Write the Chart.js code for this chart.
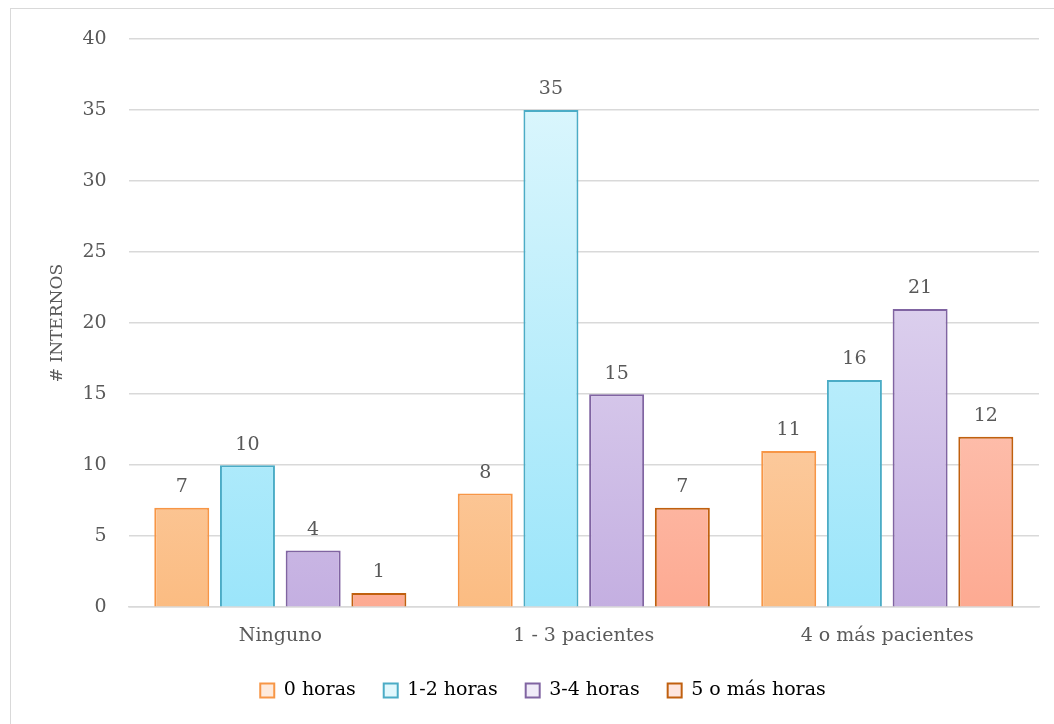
<!DOCTYPE html>
<html>
<head>
<meta charset="utf-8">
<script src="https://cdn.jsdelivr.net/npm/chart.js@4"></script>
<style>
  html, body { margin: 0; padding: 0; background: #fff; overflow: hidden; }
  #frame {
    position: absolute; left: 10px; top: 8px; width: 1060px; height: 740px;
    border: 1px solid #d9d9d9; box-sizing: border-box;
  }
  #wrap { position: absolute; left: 0; top: 0; width: 1054px; height: 724px; }
</style>
</head>
<body>
<div id="frame"></div>
<div id="wrap"><canvas id="c" width="1054" height="724"></canvas></div>
<script>
const categories = ['Ninguno', '1 - 3 pacientes', '4 o más pacientes'];
const seriesNames = ['0 horas', '1-2 horas', '3-4 horas', '5 o más horas'];
const horas0 = [7, 8, 11];
const horas12 = [10, 35, 16];
const horas34 = [4, 15, 21];
const horas5mas = [1, 7, 12];
const yTicks = [0, 5, 10, 15, 20, 25, 30, 35, 40];

const FONT = '"DejaVu Serif", "Liberation Serif", serif';

// top / bottom gradient colours and outline for each series
const palette = [
  { top: '#feeadc', bottom: '#fbbc82', border: '#f79646' },
  { top: '#e2f8fd', bottom: '#9be5fa', border: '#4bacc6' },
  { top: '#f0ebf8', bottom: '#c4afe1', border: '#8064a2' },
  { top: '#fee6df', bottom: '#fdaa92', border: '#c0600f' }
];

function gradientFor(i) {
  return function (ctx) {
    const chart = ctx.chart;
    const area = chart.chartArea;
    if (!area) return palette[i].bottom;
    const el = ctx.element;
    let topY = area.top, botY = area.bottom;
    if (el && typeof el.y === 'number' && typeof el.base === 'number') {
      topY = Math.min(el.y, el.base);
      botY = Math.max(el.y, el.base);
      if (botY - topY < 1) botY = topY + 1;
    }
    const g = chart.ctx.createLinearGradient(0, topY, 0, botY);
    g.addColorStop(0, palette[i].top);
    g.addColorStop(1, palette[i].bottom);
    return g;
  };
}

const values = [horas0, horas12, horas34, horas5mas];

// value printed above each bar
const valueLabels = {
  id: 'valueLabels',
  afterDatasetsDraw(chart) {
    const ctx = chart.ctx;
    ctx.save();
    ctx.font = '19px ' + FONT;
    ctx.fillStyle = '#595959';
    ctx.textAlign = 'center';
    ctx.textBaseline = 'bottom';
    chart.data.datasets.forEach((ds, di) => {
      const meta = chart.getDatasetMeta(di);
      meta.data.forEach((bar, i) => {
        ctx.fillText(String(ds.data[i]), bar.x, bar.y - 11);
      });
    });
    ctx.restore();
  }
};

// trims the legend's reserved height and nudges its row upward
const legendTrim = {
  id: 'legendTrim',
  beforeInit(chart) {
    const legend = chart.legend;
    const fit = legend.fit;
    legend.fit = function () {
      fit.call(this);
      this.height -= 3;
    };
    const draw = legend.draw;
    legend.draw = function () {
      const ctx = this.ctx;
      ctx.save();
      ctx.translate(0, -3);
      draw.call(this);
      ctx.restore();
    };
  }
};

new Chart(document.getElementById('c'), {
  type: 'bar',
  data: {
    labels: categories,
    datasets: seriesNames.map((name, i) => ({
      label: name,
      data: values[i],
      backgroundColor: gradientFor(i),
      borderColor: palette[i].border,
      borderWidth: 2,
      borderSkipped: 'bottom',
      categoryPercentage: 0.866,
      barPercentage: 0.837
    }))
  },
  options: {
    responsive: false,
    animation: false,
    layout: { padding: { left: 47, right: 15, top: 39, bottom: 14 } },
    scales: {
      x: {
        grid: { display: false },
        border: { color: '#d9d9d9', width: 1.5 },
        ticks: { color: '#595959', font: { family: FONT, size: 19 }, padding: 9 }
      },
      y: {
        min: 0, max: 40,
        afterBuildTicks(scale) { scale.ticks = yTicks.map(v => ({ value: v })); },
        grid: { color: '#d9d9d9', lineWidth: 1.5, drawTicks: false },
        border: { display: false },
        ticks: { color: '#595959', font: { family: FONT, size: 19 }, padding: 22 },
        title: {
          display: true, text: '# INTERNOS', color: '#595959',
          font: { family: FONT, size: 17 }, padding: { top: 0, bottom: -7 }
        }
      }
    },
    plugins: {
      legend: {
        position: 'bottom',
        labels: {
          color: '#595959',
          font: { family: FONT, size: 19 },
          boxWidth: 14, boxHeight: 14, padding: 28,
          generateLabels(chart) {
            return seriesNames.map((name, i) => ({
              text: name,
              fillStyle: palette[i].top,
              strokeStyle: palette[i].border,
              lineWidth: 2,
              datasetIndex: i
            }));
          }
        }
      },
      tooltip: { enabled: false }
    }
  },
  plugins: [valueLabels, legendTrim]
});
</script>
</body>
</html>
